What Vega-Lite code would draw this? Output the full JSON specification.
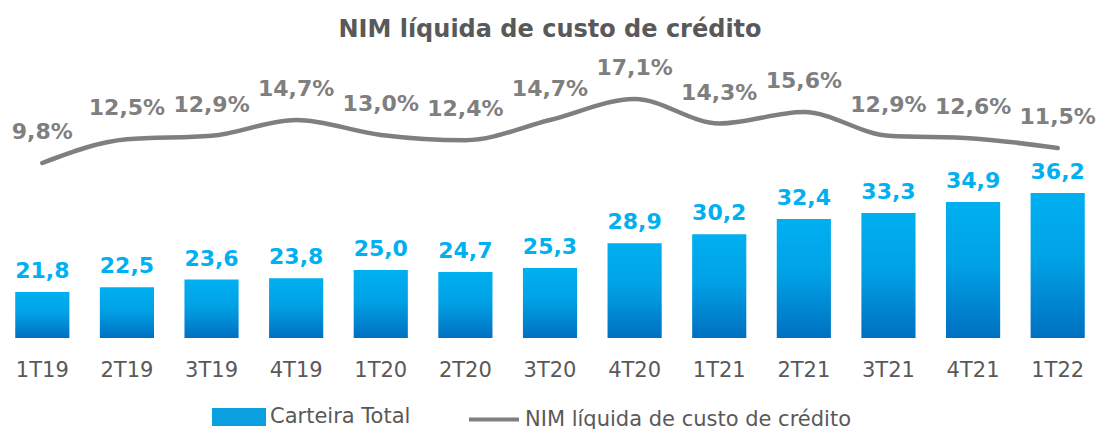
{
  "$schema": "https://vega.github.io/schema/vega-lite/v6.json",
  "width": 1100,
  "height": 288,
  "autosize": {"type": "none"},
  "padding": {"top": 50, "bottom": 91, "left": 0, "right": 0},
  "config": {
    "view": {"stroke": null},
    "font": "DejaVu Sans",
    "locale": {"number": {"decimal": ",", "thousands": ".", "grouping": [3], "currency": ["R$", ""]}}
  },
  "title": {
    "text": "NIM líquida de custo de crédito",
    "fontSize": 24,
    "fontWeight": "bold",
    "color": "#595959",
    "anchor": "middle",
    "offset": 8,
    "font": "DejaVu Sans"
  },
  "data": {
    "values": [
      {"q": "1T19", "carteira": 21.8, "nim": 0.098},
      {"q": "2T19", "carteira": 22.5, "nim": 0.125},
      {"q": "3T19", "carteira": 23.6, "nim": 0.129},
      {"q": "4T19", "carteira": 23.8, "nim": 0.147},
      {"q": "1T20", "carteira": 25.0, "nim": 0.130},
      {"q": "2T20", "carteira": 24.7, "nim": 0.124},
      {"q": "3T20", "carteira": 25.3, "nim": 0.147},
      {"q": "4T20", "carteira": 28.9, "nim": 0.171},
      {"q": "1T21", "carteira": 30.2, "nim": 0.143},
      {"q": "2T21", "carteira": 32.4, "nim": 0.156},
      {"q": "3T21", "carteira": 33.3, "nim": 0.129},
      {"q": "4T21", "carteira": 34.9, "nim": 0.126},
      {"q": "1T22", "carteira": 36.2, "nim": 0.115}
    ]
  },
  "encoding": {
    "x": {
      "field": "q",
      "type": "nominal",
      "sort": null,
      "scale": {"paddingInner": 0.36, "paddingOuter": 0.18},
      "axis": {
        "title": null,
        "labelAngle": 0,
        "ticks": false,
        "domain": false,
        "labelFontSize": 21,
        "labelColor": "#595959",
        "labelPadding": 21,
        "labelFont": "DejaVu Sans"
      }
    }
  },
  "layer": [
    {
      "mark": {
        "type": "bar",
        "fill": {
          "gradient": "linear",
          "x1": 0, "y1": 0, "x2": 0, "y2": 1,
          "stops": [
            {"offset": 0, "color": "#00B0F0"},
            {"offset": 0.45, "color": "#00A2E6"},
            {"offset": 1, "color": "#0070C0"}
          ]
        }
      },
      "encoding": {
        "y": {"field": "carteira", "type": "quantitative", "scale": {"domain": [15.1, 57], "nice": false, "zero": false}, "axis": null},
        "y2": {"datum": 15.1},
        "color": {
          "datum": "Carteira Total",
          "type": "nominal",
          "scale": {"domain": ["Carteira Total", "NIM líquida de custo de crédito"], "range": ["#0B9FE0", "#7F7F7F"]},
          "legend": {
            "title": null,
            "orient": "none",
            "direction": "horizontal",
            "legendX": 212,
            "legendY": 340,
            "padding": 0,
            "symbolSize": 2500,
            "labelFontSize": 21,
            "labelColor": "#595959",
            "labelFont": "DejaVu Sans",
            "labelOffset": 4,
            "labelLimit": 500,
            "columnPadding": 50,
            "encode": {
              "symbols": {
                "update": {
                  "shape": [{"test": "datum.value === 'Carteira Total'", "value": "M-1,-0.28H1V0.28H-1Z"}, {"value": "stroke"}],
                  "fill": [
                    {"test": "datum.value === 'Carteira Total'", "value": {"gradient": "linear", "x1": 0, "y1": 0, "x2": 0, "y2": 1, "stops": [{"offset": 0, "color": "#0070C0"}, {"offset": 1, "color": "#00B0F0"}]}},
                    {"value": "transparent"}
                  ],
                  "stroke": [{"test": "datum.value === 'Carteira Total'", "value": "transparent"}, {"value": "#7F7F7F"}],
                  "strokeWidth": {"value": 4},
                  "opacity": {"value": 1}
                }
              }
            }
          }
        }
      }
    },
    {
      "mark": {"type": "text", "baseline": "alphabetic", "dy": -14, "fontSize": 22, "fontWeight": "bold", "color": "#00B0F0"},
      "encoding": {
        "y": {"field": "carteira", "type": "quantitative", "scale": {"domain": [15.1, 57], "nice": false, "zero": false}, "axis": null},
        "text": {"field": "carteira", "type": "quantitative", "format": ".1f"}
      }
    },
    {
      "mark": {"type": "line", "strokeWidth": 4.5, "interpolate": "monotone", "strokeCap": "round"},
      "encoding": {
        "y": {"field": "nim", "type": "quantitative", "scale": {"domain": [-0.1015, 0.2268], "nice": false, "zero": false}, "axis": null},
        "color": {"datum": "NIM líquida de custo de crédito", "type": "nominal"}
      }
    },
    {
      "mark": {"type": "text", "baseline": "alphabetic", "dy": -24, "fontSize": 22, "fontWeight": "bold", "color": "#7F7F7F"},
      "encoding": {
        "y": {"field": "nim", "type": "quantitative", "scale": {"domain": [-0.1015, 0.2268], "nice": false, "zero": false}, "axis": null},
        "text": {"field": "nim", "type": "quantitative", "format": ".1%"}
      }
    }
  ],
  "resolve": {"scale": {"y": "independent"}}
}
